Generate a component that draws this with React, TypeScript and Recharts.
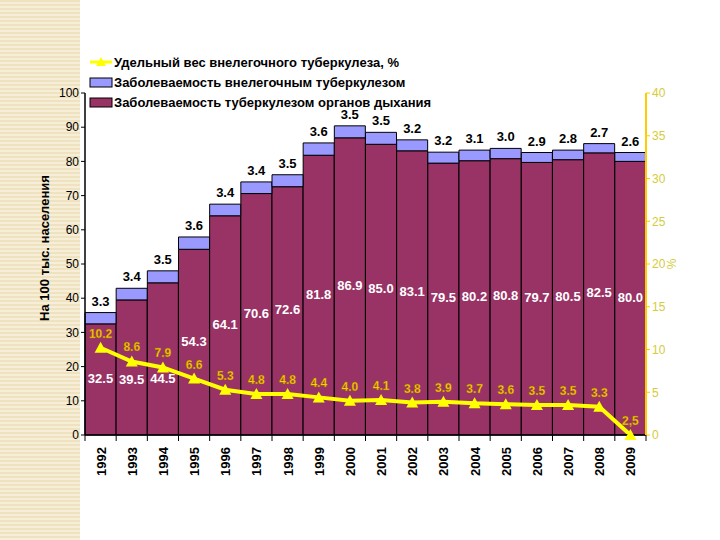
import React from "react";
import {
  ComposedChart,
  Bar,
  Line,
  XAxis,
  YAxis,
  LabelList,
} from "recharts";

const years = [
  "1992", "1993", "1994", "1995", "1996", "1997", "1998", "1999", "2000",
  "2001", "2002", "2003", "2004", "2005", "2006", "2007", "2008", "2009",
];
const respiratory = [
  32.5, 39.5, 44.5, 54.3, 64.1, 70.6, 72.6, 81.8, 86.9, 85.0, 83.1, 79.5, 80.2,
  80.8, 79.7, 80.5, 82.5, 80.0,
];
const extrapulmonary = [
  3.3, 3.4, 3.5, 3.6, 3.4, 3.4, 3.5, 3.6, 3.5, 3.5, 3.2, 3.2, 3.1, 3.0, 2.9,
  2.8, 2.7, 2.6,
];
const share = [
  10.2, 8.6, 7.9, 6.6, 5.3, 4.8, 4.8, 4.4, 4.0, 4.1, 3.8, 3.9, 3.7, 3.6, 3.5,
  3.5, 3.3, 0,
];
const shareLabels = [
  "10.2", "8.6", "7.9", "6.6", "5.3", "4.8", "4.8", "4.4", "4.0", "4.1", "3.8",
  "3.9", "3.7", "3.6", "3.5", "3.5", "3.3", "2,5",
];
const leftTicks = [0, 10, 20, 30, 40, 50, 60, 70, 80, 90, 100];
const rightTicks = [0, 5, 10, 15, 20, 25, 30, 35, 40];

const seriesNames = {
  share: "Удельный вес внелегочного туберкулеза, %",
  extra: "Заболеваемость внелегочным туберкулезом",
  resp: "Заболеваемость туберкулезом органов дыхания",
};
const leftAxisTitle = "На 100 тыс. населения";

const data = years.map((y, i) => ({
  year: y,
  resp: respiratory[i],
  extra: extrapulmonary[i],
  share: share[i],
}));

const FONT = "'Liberation Sans', Arial, sans-serif";
const RED = "#993366";
const BLUE = "#9999FF";
const YELLOW = "#FFFF00";
const GOLD = "#FFCC00";

const respOffsets: Record<number, number> = { 1: 13, 2: 21 };

const RespLabel = (props: any) => {
  const { x, y, width, height, index, value } = props;
  const cy = y + height / 2 + (respOffsets[index] || 0);
  return (
    <text
      x={x + width / 2}
      y={cy}
      textAnchor="middle"
      dominantBaseline="middle"
      fill="#fff"
      fontFamily={FONT}
      fontWeight="bold"
      fontSize={13}
    >
      {Number(value).toFixed(1)}
    </text>
  );
};

const ExtraLabel = (props: any) => {
  const { x, y, width, value } = props;
  return (
    <text
      x={x + width / 2}
      y={y - 7}
      textAnchor="middle"
      fill="#000"
      fontFamily={FONT}
      fontWeight="bold"
      fontSize={13}
    >
      {Number(value).toFixed(1)}
    </text>
  );
};

const ShareLabel = (props: any) => {
  const { x, y, index } = props;
  return (
    <text
      x={x}
      y={y - 10}
      textAnchor="middle"
      fill={GOLD}
      stroke="#8a6a00"
      strokeWidth={0.3}
      fontFamily={FONT}
      fontWeight="bold"
      fontSize={12}
    >
      {shareLabels[index]}
    </text>
  );
};

const TriDot = (props: any) => {
  const { cx, cy } = props;
  if (cx == null || cy == null) return null;
  return (
    <polygon
      points={`${cx},${cy - 6} ${cx - 6},${cy + 5} ${cx + 6},${cy + 5}`}
      fill={YELLOW}
    />
  );
};

const YearTick = (props: any) => {
  const { x, y, payload } = props;
  const half = (646 - 85) / years.length / 2;
  return (
    <g>
      <line x1={x - half} y1={y - 8} x2={x - half} y2={y - 2} stroke="#000" />
      {payload.index === years.length - 1 && (
        <line x1={x + half} y1={y - 8} x2={x + half} y2={y - 2} stroke="#000" />
      )}
      <text
        transform={`translate(${x + 5},${y + 4}) rotate(-90)`}
        textAnchor="end"
        fill="#000"
        fontFamily={FONT}
        fontWeight="bold"
        fontSize={13}
      >
        {payload.value}
      </text>
    </g>
  );
};

const LeftTitle = (props: any) => {
  const vb = props.viewBox || {};
  const x = (vb.x || 0) + 9;
  const y = (vb.y || 0) + (vb.height || 0) / 2 - 16;
  return (
    <text
      transform={`translate(${x},${y}) rotate(-90)`}
      textAnchor="middle"
      fontFamily={FONT}
      fontWeight="bold"
      fontSize={13}
      fill="#000"
    >
      {leftAxisTitle}
    </text>
  );
};

const LegendBox = () => (
  <svg
    width={380}
    height={60}
    style={{ position: "absolute", left: 88, top: 52, overflow: "visible" }}
  >
    <g>
      <line x1={2} y1={10} x2={24} y2={10} stroke={YELLOW} strokeWidth={3} />
      <polygon points="13,5 8,14 18,14" fill={YELLOW} />
      <text x={26} y={15} fontFamily={FONT} fontWeight="bold" fontSize={13} fill="#000">
        {seriesNames.share}
      </text>
    </g>
    <g>
      <rect x={2} y={26} width={22} height={9} fill={BLUE} stroke="#000" />
      <text x={26} y={35} fontFamily={FONT} fontWeight="bold" fontSize={13} fill="#000">
        {seriesNames.extra}
      </text>
    </g>
    <g>
      <rect x={2} y={46} width={22} height={9} fill={RED} stroke="#000" />
      <text x={26} y={55} fontFamily={FONT} fontWeight="bold" fontSize={13} fill="#000">
        {seriesNames.resp}
      </text>
    </g>
  </svg>
);

export default function App() {
  return (
    <div
      style={{
        position: "absolute",
        left: 0,
        top: 0,
        width: 720,
        height: 540,
        background: "#fff",
        overflow: "hidden",
      }}
    >
      <div
        style={{
          position: "absolute",
          left: 0,
          top: 0,
          width: 80,
          height: 540,
          background:
            "repeating-linear-gradient(180deg, #efe2bf 0px, #efe2bf 2px, #f6eed8 2px, #f6eed8 4px)",
        }}
      />
      <div style={{ position: "absolute", left: 0, top: 0 }}>
        <ComposedChart
          width={720}
          height={540}
          data={data}
          margin={{ top: 93, right: 34, left: 40, bottom: 0 }}
          barCategoryGap={0}
          barGap={0}
        >
          <XAxis
            dataKey="year"
            xAxisId="x"
            tick={<YearTick />}
            tickLine={false}
            axisLine={{ stroke: "#000", strokeWidth: 1.5 }}
            interval={0}
            height={105}
          />
          <YAxis
            yAxisId="left"
            domain={[0, 100]}
            ticks={leftTicks}
            width={45}
            interval={0}
            tick={{ fill: "#000", fontFamily: FONT, fontSize: 12 }}
            tickLine={{ stroke: "#000" }}
            tickSize={4}
            axisLine={{ stroke: "#000", strokeWidth: 1.5 }}
            label={{ content: <LeftTitle /> }}
          />
          <YAxis
            yAxisId="right"
            orientation="right"
            domain={[0, 40]}
            ticks={rightTicks}
            width={40}
            interval={0}
            tick={{ fill: "#D4CC3A", fontFamily: FONT, fontSize: 12 }}
            tickLine={{ stroke: GOLD }}
            tickSize={4}
            axisLine={{ stroke: GOLD, strokeWidth: 2 }}
            label={{
              value: "%",
              angle: -90,
              position: "insideRight",
              offset: 14,
              style: {
                fontFamily: FONT,
                fontSize: 12,
                fill: "#D4CC3A",
                textAnchor: "middle",
              },
            }}
          />
          <Bar
            dataKey="resp"
            name={seriesNames.resp}
            stackId="a"
            xAxisId="x"
            yAxisId="left"
            fill={RED}
            stroke="#000"
            strokeWidth={1}
            isAnimationActive={false}
          >
            <LabelList dataKey="resp" content={<RespLabel />} />
          </Bar>
          <Bar
            dataKey="extra"
            name={seriesNames.extra}
            stackId="a"
            xAxisId="x"
            yAxisId="left"
            fill={BLUE}
            stroke="#000"
            strokeWidth={1}
            isAnimationActive={false}
          >
            <LabelList dataKey="extra" content={<ExtraLabel />} />
          </Bar>
          <Line
            dataKey="share"
            name={seriesNames.share}
            xAxisId="x"
            yAxisId="right"
            type="linear"
            stroke={YELLOW}
            strokeWidth={4}
            dot={<TriDot />}
            activeDot={false}
            isAnimationActive={false}
          >
            <LabelList dataKey="share" content={<ShareLabel />} />
          </Line>
        </ComposedChart>
      </div>
      <LegendBox />
    </div>
  );
}
